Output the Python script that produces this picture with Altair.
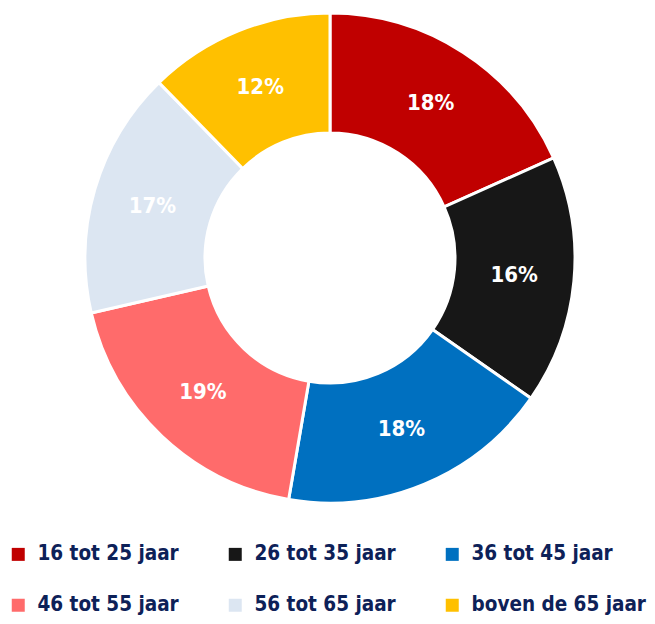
import altair as alt
import pandas as pd

categories = ["16 tot 25 jaar", "26 tot 35 jaar", "36 tot 45 jaar",
              "46 tot 55 jaar", "56 tot 65 jaar", "boven de 65 jaar"]
values = [18.3, 16.4, 18.0, 18.7, 16.3, 12.3]
labels = ["18%", "16%", "18%", "19%", "17%", "12%"]
colors = ["#C00000", "#171717", "#0070C0", "#FF6B6B", "#DCE6F2", "#FFC000"]

df = pd.DataFrame({"cat": categories, "value": values, "label": labels,
                   "idx": list(range(len(categories)))})

FONT = "DejaVu Sans Condensed, sans-serif"

base = alt.Chart(df).encode(
    theta=alt.Theta("value:Q", stack=True),
    order=alt.Order("idx:Q"),
    x=alt.value(322),
    y=alt.value(250),
)

arcs = base.mark_arc(outerRadius=245, innerRadius=125, stroke="white",
                     strokeWidth=3).encode(
    color=alt.Color("cat:N", scale=alt.Scale(domain=categories, range=colors),
                    legend=alt.Legend(
                        orient="none", legendX=0, legendY=536, direction="horizontal",
                        columns=3, title=None, symbolType="square", symbolSize=169,
                        symbolStrokeWidth=0, labelFont=FONT, labelFontSize=20.5,
                        labelFontWeight="bold", labelColor="#0D2158",
                        labelOffset=9, columnPadding=13, rowPadding=30,
                        gridAlign="all", labelLimit=400)),
)

text = base.mark_text(radius=185, font=FONT, fontSize=22, fontWeight="bold",
                      color="white").encode(text="label:N")

chart = (arcs + text).properties(
    width=639, height=608, padding=0, autosize=alt.AutoSizeParams(type="none")
).configure_view(stroke=None)

chart.save("out.html", embed_options={"renderer": "svg", "actions": False})
